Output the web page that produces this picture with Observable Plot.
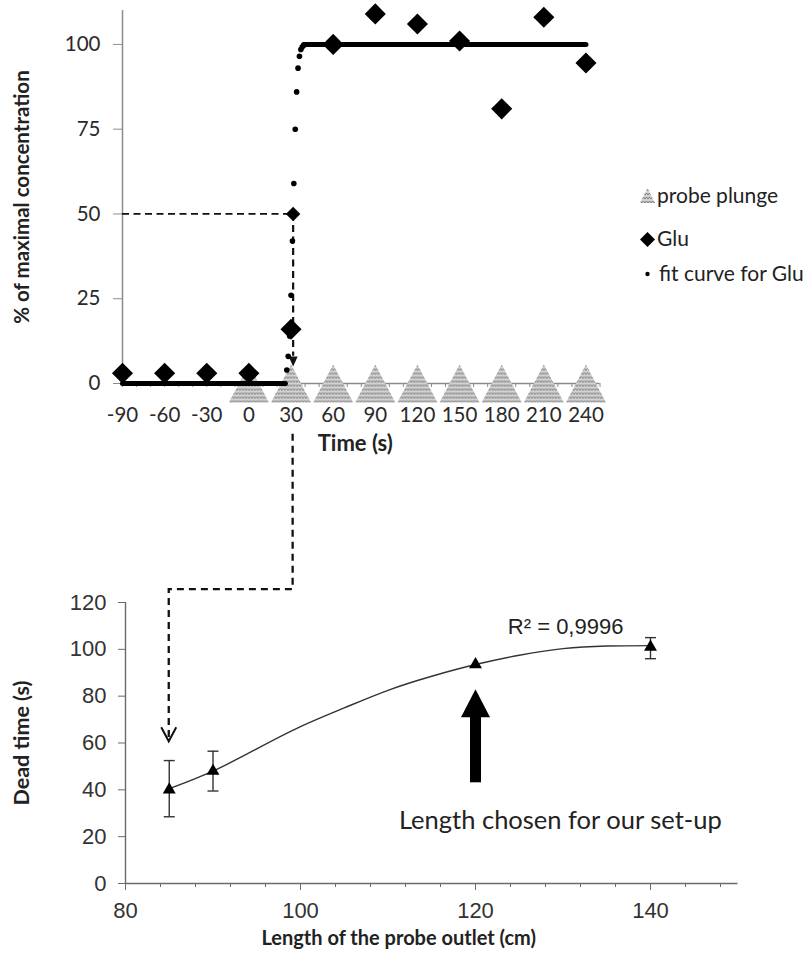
<!DOCTYPE html>
<html>
<head>
<meta charset="utf-8">
<script src="https://cdn.jsdelivr.net/npm/d3@7"></script>
<script src="https://cdn.jsdelivr.net/npm/@observablehq/plot@0.6"></script>
<style>
  body { margin: 0; background: #fff; }
  #wrap { position: relative; width: 808px; height: 954px; overflow: hidden; background: #fff; }
  #top, #bottom { position: absolute; left: 0; }
  #top { top: 0; }
  #bottom { top: 470px; }
  #overlay { position: absolute; left: 0; top: 0; pointer-events: none; }
</style>
</head>
<body>
<svg width="0" height="0" style="position:absolute">
  <defs>
    <pattern id="zig" width="6" height="4" patternUnits="userSpaceOnUse">
      <rect width="6" height="4" fill="#d2d2d2"></rect>
      <path d="M0,3 L1.5,1 L3,3 L4.5,1 L6,3" stroke="#7d7d7d" stroke-width="1" fill="none"></path>
    </pattern>
  </defs>
</svg>
<div id="wrap">
  <div id="top"></div>
  <div id="bottom"></div>
  <svg id="overlay" width="808" height="954"></svg>
</div>
<script>
// ---------------- Top panel data ----------------
const gluTime  = [-90, -60, -30, 0, 30, 60, 90, 120, 150, 180, 210, 240];
const gluValue = [3, 3, 3, 3, 16, 100, 109, 106, 101, 81, 108, 94.5];
const plungeTime = [0, 30, 60, 90, 120, 150, 180, 210, 240];
// fit curve for Glu: flat parts (dense dots merge into a thick line) and the steep part (separate dots)
const fitLowTime   = [-90, 26];
const fitLowValue  = [0, 0];
const fitStepTime  = [27, 28, 29, 30, 31, 32, 33, 34, 35, 36, 37, 38, 39];
const fitStepValue = [4, 8, 14, 26, 42, 59, 75, 86, 93, 96.5, 98.5, 99.3, 99.7];
const fitHighTime  = [39, 240];
const fitHighValue = [100, 100];
const halfTime = 31.5;          // time of half-maximal concentration
const halfValue = 50;
const halfArrowTip = 5;
const xTicksTop = [-90, -60, -30, 0, 30, 60, 90, 120, 150, 180, 210, 240];
const yTicksTop = [0, 25, 50, 75, 100];
const legendLabels = ["probe plunge", "Glu", "fit curve for Glu"];

// ---------------- Bottom panel data ----------------
const lengthCm  = [85, 90, 120, 140];
const deadTime  = [40, 48, 93.5, 101];
const deadLow   = [28.5, 39.5, null, 96];
const deadHigh  = [52.5, 56.5, null, 105];
const trendLength = [85, 90, 95, 100, 105, 110, 115, 120, 125, 130, 135, 140];
const trendDead   = [40.5, 48, 57.5, 67, 75, 82.5, 88.5, 93.5, 97.5, 100.3, 101.4, 101.6];
const xTicksBottom = [80, 100, 120, 140];
const xMinorBottom = [84, 88, 92, 96, 104, 108, 112, 116, 124, 128, 132, 136, 144, 148];
const yTicksBottom = [0, 20, 40, 60, 80, 100, 120];
const chosenLength = 120, chosenTail = 43, chosenHeadBase = 72, chosenTip = 83;
const r2Label = "R² = 0,9996";
const chosenLabel = "Length chosen for our set-up";
// connector (top half-max time -> bottom 85 cm point)
const connStartTop = -15, connMidBottom = 125.5, connTipBottom = 60.5, connLength = 85;

// ---------------- symbols ----------------
const plungeSym = {draw(c) { c.moveTo(0, -19); c.lineTo(20, 19); c.lineTo(-20, 19); c.closePath(); }};
const smallDownHead = {draw(c) { c.moveTo(0, 0); c.lineTo(-4.5, -10); c.lineTo(4.5, -10); c.closePath(); }};
const bigUpHead = {draw(c) { c.moveTo(0, 0); c.lineTo(14.5, 28); c.lineTo(-14.5, 28); c.closePath(); }};
const capSym = {draw(c) { c.moveTo(-5.5, 0); c.lineTo(5.5, 0); }};

const glu = gluTime.map((t, i) => ({t, v: gluValue[i]}));
const plunge = plungeTime.map(t => ({t, v: 0}));
const fitLow = fitLowTime.map((t, i) => ({t, v: fitLowValue[i]}));
const fitHigh = fitHighTime.map((t, i) => ({t, v: fitHighValue[i]}));
const fitStep = fitStepTime.map((t, i) => ({t, v: fitStepValue[i]}));

const gray = "#8c8c8c";
const plain = d => String(d);

const topPlot = Plot.plot({
  width: 808, height: 470,
  marginLeft: 122, marginRight: 208.5, marginTop: 10, marginBottom: 87,
  style: {fontFamily: "Lato", fontSize: "20px", color: "#333", background: "#fff"},
  x: {domain: [-90, 250]},
  y: {domain: [0, 110]},
  marks: [
    Plot.ruleY([0], {stroke: gray, strokeWidth: 1.5}),
    Plot.ruleX([-90], {stroke: gray, strokeWidth: 1.5}),
    Plot.axisX(d3.range(-90, 251, 10), {tickSize: 4, stroke: gray, tickFormat: () => "", label: null}),
    Plot.axisX(xTicksTop, {tickSize: 0, tickPadding: 24, label: null, fill: "#2a2a2a", fontSize: 20.5, tickFormat: plain}),
    Plot.axisY(yTicksTop, {tickSize: 9, tickPadding: 13, stroke: gray, fill: "#2a2a2a", label: null, fontSize: 20.5, tickFormat: plain}),
    Plot.dot(plunge, {x: "t", y: "v", symbol: plungeSym, fill: "url(#zig)", stroke: "none"}),
    Plot.ruleY([{y: halfValue, x1: -90, x2: halfTime}], {y: "y", x1: "x1", x2: "x2", stroke: "#111", strokeWidth: 1.8, strokeDasharray: "7,4.5"}),
    Plot.ruleX([{x: halfTime, y1: halfValue, y2: halfArrowTip + 3}], {x: "x", y1: "y1", y2: "y2", stroke: "#111", strokeWidth: 2.2, strokeDasharray: "7,4.5"}),
    Plot.dot([{x: halfTime, y: halfArrowTip}], {x: "x", y: "y", symbol: smallDownHead, fill: "#111", stroke: "none"}),
    Plot.line(fitLow, {x: "t", y: "v", stroke: "#000", strokeWidth: 5, strokeLinecap: "round"}),
    Plot.line(fitHigh, {x: "t", y: "v", stroke: "#000", strokeWidth: 5, strokeLinecap: "round"}),
    Plot.dot(fitStep, {x: "t", y: "v", r: 2.8, fill: "#000", stroke: "none"}),
    Plot.dot(glu, {x: "t", y: "v", symbol: "diamond2", r: 9.5, fill: "#000", stroke: "none"}),
    Plot.dot([{x: halfTime, y: halfValue}], {x: "x", y: "y", symbol: "diamond2", r: 6.5, fill: "#000", stroke: "none"}),
    Plot.text(["Time (s)"], {frameAnchor: "bottom", dx: -6, dy: 67, fontWeight: "bold", fontSize: 22, fill: "#222"}),
    Plot.text(["% of maximal concentration"], {frameAnchor: "left", textAnchor: "middle", rotate: -90, dx: -100, fontWeight: "bold", fontSize: 20.5, fill: "#222"})
  ]
});
document.getElementById("top").appendChild(topPlot);

// ---------------- bottom panel ----------------
const points = lengthCm.map((x, i) => ({x, y: deadTime[i], lo: deadLow[i], hi: deadHigh[i]}));
const errs = points.filter(d => d.lo != null);
const trend = trendLength.map((x, i) => ({x, y: trendDead[i]}));
const axisDark = "#6a6a6a";

const bottomPlot = Plot.plot({
  width: 808, height: 484,
  marginLeft: 125, marginRight: 70.5, marginTop: 132, marginBottom: 71,
  style: {fontFamily: "Liberation Sans", fontSize: "22px", color: "#333", background: "#fff"},
  x: {domain: [80, 150]},
  y: {domain: [0, 120]},
  marks: [
    Plot.ruleX([80], {stroke: axisDark, strokeWidth: 1.4}),
    Plot.ruleY([0], {stroke: axisDark, strokeWidth: 1.4}),
    Plot.axisY(yTicksBottom, {tickSize: 7, tickPadding: 12, stroke: axisDark, fill: "#333", label: null, fontSize: 22, tickFormat: plain}),
    Plot.axisX(xTicksBottom, {tickSize: 7, tickPadding: 12, stroke: axisDark, fill: "#333", label: null, fontSize: 22, tickFormat: plain}),
    Plot.axisX(xMinorBottom, {tickSize: 4, stroke: axisDark, tickFormat: () => "", label: null}),
    Plot.line(trend, {x: "x", y: "y", curve: "natural", stroke: "#333", strokeWidth: 1.4}),
    Plot.ruleX(errs, {x: "x", y1: "lo", y2: "hi", stroke: "#333", strokeWidth: 1.4}),
    Plot.dot(errs, {x: "x", y: "lo", symbol: capSym, fill: "none", stroke: "#333", strokeWidth: 1.4}),
    Plot.dot(errs, {x: "x", y: "hi", symbol: capSym, fill: "none", stroke: "#333", strokeWidth: 1.4}),
    Plot.dot(points, {x: "x", y: "y", symbol: "triangle", r: 4.8, fill: "#000", stroke: "none"}),
    Plot.ruleX([{x: chosenLength, y1: chosenTail, y2: chosenHeadBase}], {x: "x", y1: "y1", y2: "y2", stroke: "#000", strokeWidth: 11}),
    Plot.dot([{x: chosenLength, y: chosenTip}], {x: "x", y: "y", symbol: bigUpHead, fill: "#000", stroke: "none"}),
    Plot.text([{x: 130.3, y: 109.5, t: r2Label}], {x: "x", y: "y", text: "t", fontSize: 22, fill: "#222"}),
    Plot.text([{x: 129.7, y: 26.9, t: chosenLabel}], {x: "x", y: "y", text: "t", fontFamily: "Lato", fontSize: 25.5, fill: "#222"}),
    Plot.text(["Dead time (s)"], {frameAnchor: "left", textAnchor: "middle", rotate: -90, dx: -103, fontFamily: "Lato", fontWeight: "bold", fontSize: 21.5, fill: "#222"}),
    Plot.text(["Length of the probe outlet (cm)"], {frameAnchor: "bottom", dx: -33, dy: 61.5, fontFamily: "Lato", fontWeight: "bold", fontSize: 20, fill: "#222"})
  ]
});
document.getElementById("bottom").appendChild(bottomPlot);

// ---------------- overlay: connector + legend ----------------
const tx = topPlot.scale("x"), ty = topPlot.scale("y");
const bx = bottomPlot.scale("x"), by = bottomPlot.scale("y");
const bottomTop = 470;
const ov = d3.select("#overlay");
const xA = tx.apply(halfTime), yA = ty.apply(connStartTop);
const yM = bottomTop + by.apply(connMidBottom);
const xB = bx.apply(connLength), yB = bottomTop + by.apply(connTipBottom);
ov.append("path")
  .attr("d", `M${xA},${yA}V${yM}H${xB}V${yB}`)
  .attr("fill", "none").attr("stroke", "#111").attr("stroke-width", 2.3).attr("stroke-dasharray", "7,5");
ov.append("path")
  .attr("d", `M${xB - 7.5},${yB - 14}L${xB},${yB}L${xB + 7.5},${yB - 14}`)
  .attr("fill", "none").attr("stroke", "#111").attr("stroke-width", 2);

// legend
const lg = ov.append("g").attr("font-family", "Lato").attr("font-size", 21).attr("fill", "#222");
lg.append("path").attr("d", "M647.5,188L655,203L640,203Z").attr("fill", "url(#zig)");
lg.append("path").attr("d", "M647.5,232L655,239.5L647.5,247L640,239.5Z").attr("fill", "#000");
lg.append("circle").attr("cx", 647.5).attr("cy", 274).attr("r", 2.2).attr("fill", "#000");
lg.append("text").attr("x", 657).attr("y", 203).text(legendLabels[0]);
lg.append("text").attr("x", 657).attr("y", 246).text(legendLabels[1]);
lg.append("text").attr("x", 659).attr("y", 281).text(legendLabels[2]);
</script>
</body>
</html>
